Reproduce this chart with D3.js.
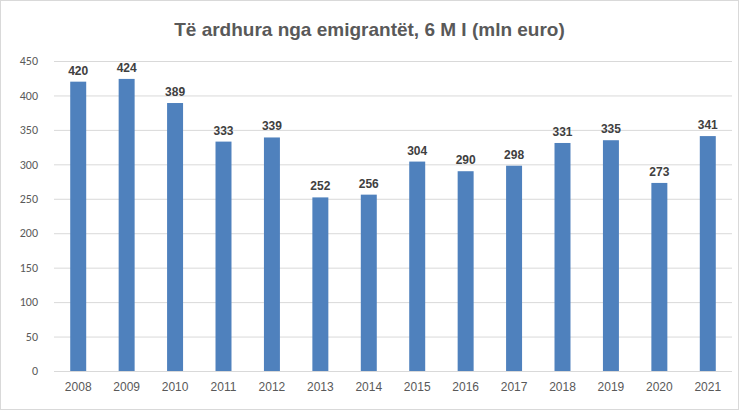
<!DOCTYPE html>
<html><head><meta charset="utf-8">
<script src="https://cdn.jsdelivr.net/npm/d3@7"></script>
<style>body{margin:0;background:#fff}svg{display:block}</style>
</head><body>
<script>
const years = ["2008","2009","2010","2011","2012","2013","2014","2015","2016","2017","2018","2019","2020","2021"];
const values = [420,424,389,333,339,252,256,304,290,298,331,335,273,341];
const yTicks = [0,50,100,150,200,250,300,350,400,450];
const title = "Të ardhura nga emigrantët, 6 M I (mln euro)";

const W=739,H=410;
const svg=d3.select("body").append("svg").attr("width",W).attr("height",H);
svg.append("rect").attr("x",0.5).attr("y",0.5).attr("width",W-1).attr("height",H-1).attr("fill","#fff").attr("stroke","#d9d9d9");
const m={l:54,r:7,t:61,b:39};
const x=d3.scaleBand().domain(years).range([m.l,W-m.r]).paddingInner(0.67).paddingOuter(0.335);
const y=d3.scaleLinear().domain([0,450]).range([H-m.b,m.t]);
svg.append("g").selectAll("line").data(yTicks).join("line")
 .attr("x1",m.l).attr("x2",W-m.r).attr("y1",d=>y(d)+0.5).attr("y2",d=>y(d)+0.5)
 .attr("stroke","#d9d9d9");
svg.append("g").selectAll("text").data(yTicks).join("text")
 .attr("x",m.l-16).attr("y",d=>y(d)).attr("dy","0.35em").attr("text-anchor","end")
 .attr("font-family","Calibri, Carlito, 'Liberation Sans', sans-serif").attr("font-size",12).attr("fill","#595959").text(d=>d);
svg.append("g").selectAll("rect").data(values).join("rect")
 .attr("x",(d,i)=>x(years[i])).attr("width",x.bandwidth())
 .attr("y",d=>y(d)).attr("height",d=>y(0)-y(d)).attr("fill","#4f81bd");
svg.append("g").selectAll("text").data(values).join("text")
 .attr("x",(d,i)=>x(years[i])+x.bandwidth()/2).attr("y",d=>y(d)-7).attr("text-anchor","middle")
 .attr("font-family","'Liberation Sans', sans-serif").attr("font-weight","bold").attr("font-size",12).attr("fill","#404040").text(d=>d);
svg.append("g").selectAll("text").data(years).join("text")
 .attr("x",d=>x(d)+x.bandwidth()/2).attr("y",H-m.b+20).attr("text-anchor","middle")
 .attr("font-family","'Liberation Sans', sans-serif").attr("font-size",12).attr("fill","#595959").text(d=>d);
svg.append("text").attr("x",W/2).attr("y",36).attr("text-anchor","middle")
 .attr("font-family","'Liberation Sans', sans-serif").attr("font-weight","bold").attr("font-size",19).attr("fill","#595959").text(title);
</script>
</body></html>
